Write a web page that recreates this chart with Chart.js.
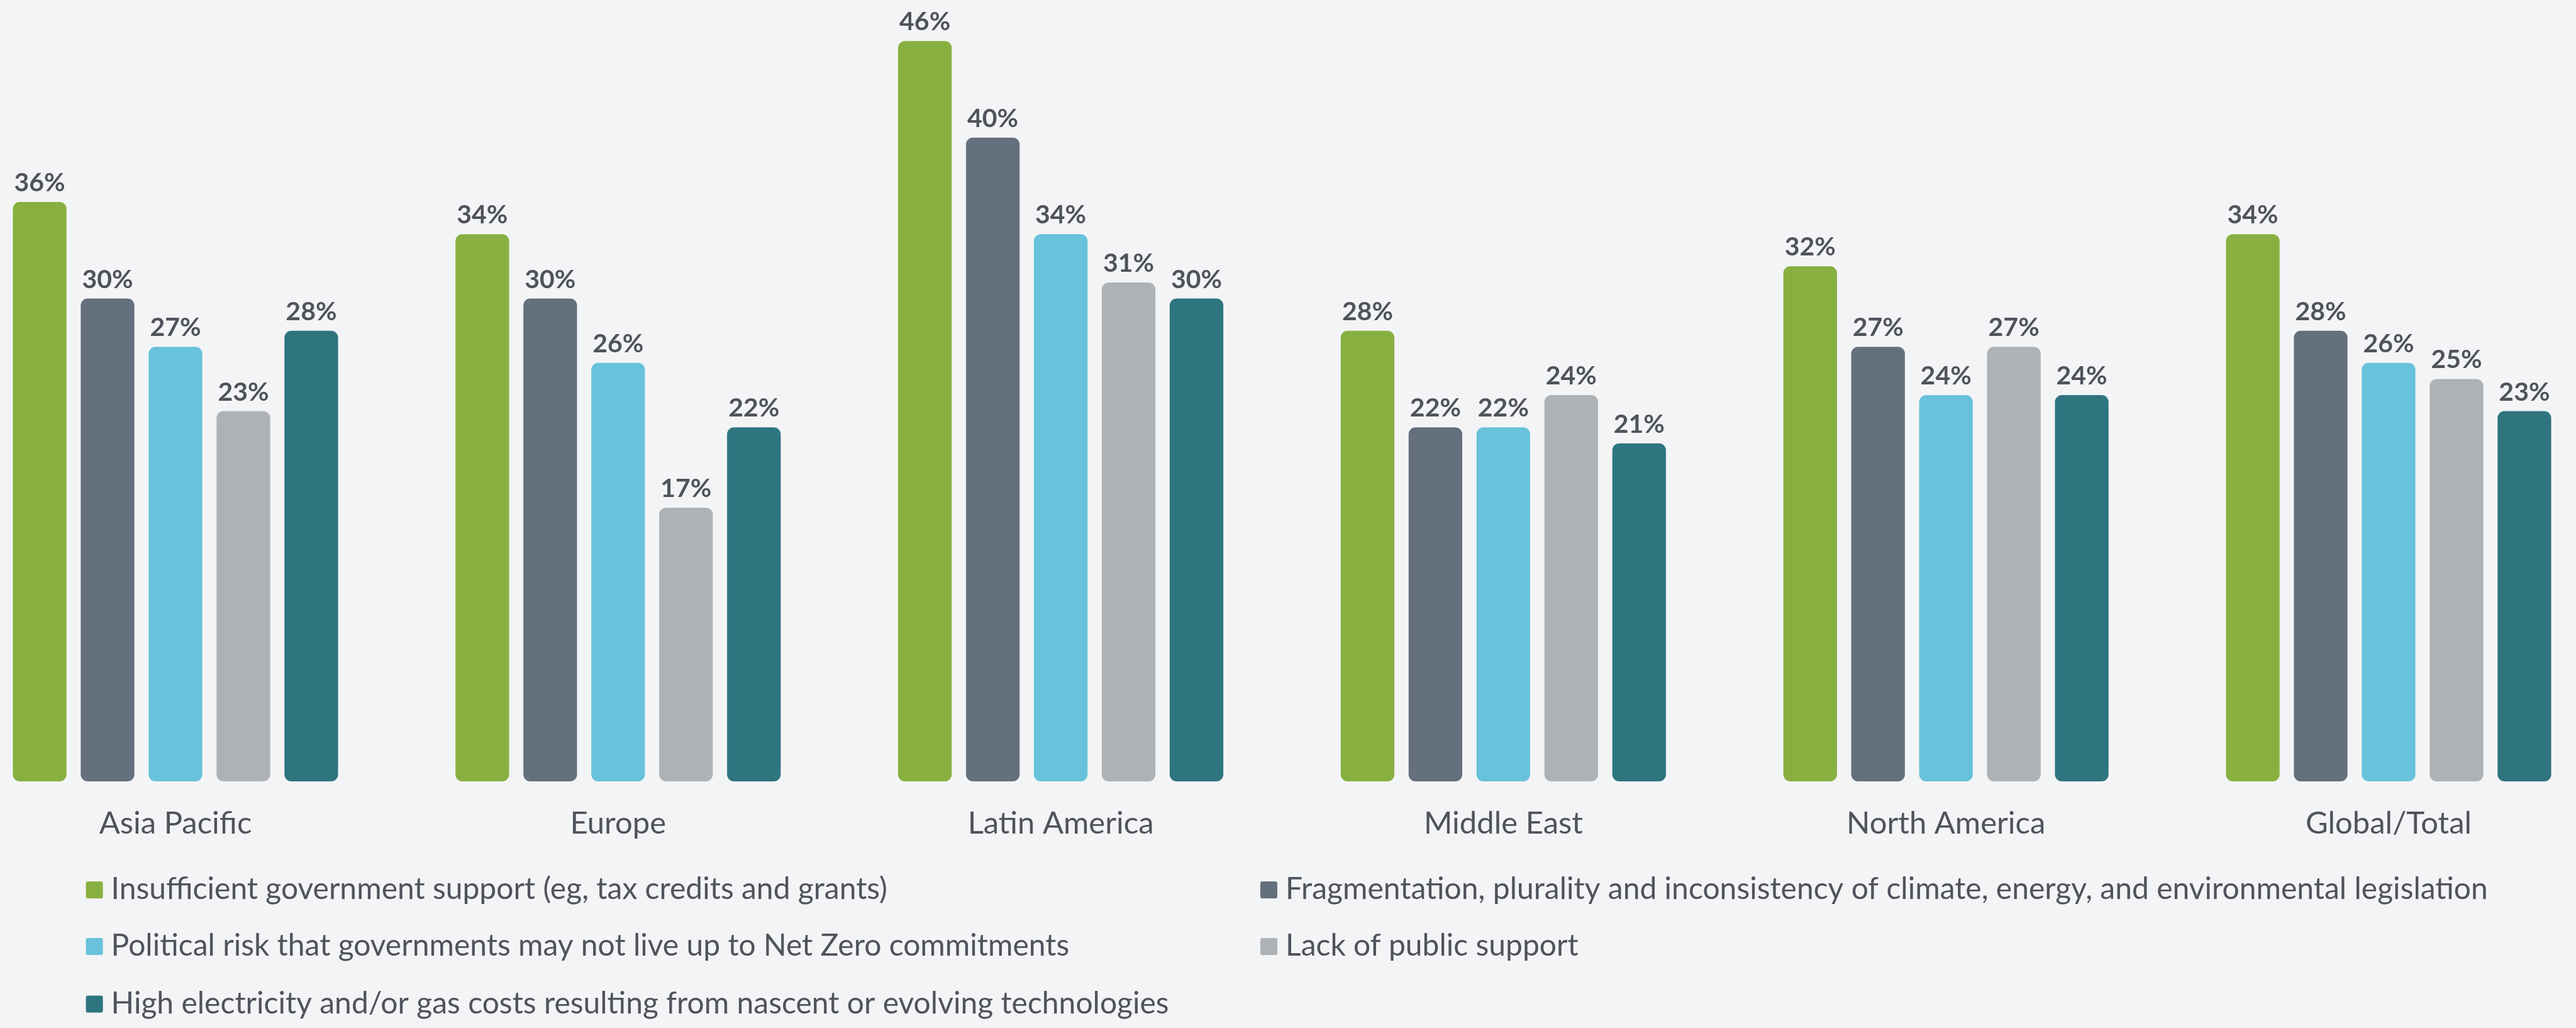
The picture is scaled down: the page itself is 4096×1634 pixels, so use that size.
<!DOCTYPE html>
<html>
<head>
<meta charset="utf-8">
<title>Barriers to Net Zero by region</title>
<script src="https://cdn.jsdelivr.net/npm/chart.js@4.4.1/dist/chart.umd.min.js"></script>
<style>
  html, body { margin: 0; padding: 0; background: #f3f4f6; }
  #wrap { position: relative; width: 4096px; height: 1634px; }
</style>
</head>
<body>
<div id="wrap"><canvas id="chart"></canvas></div>
<script>
// Regions along the x axis
const regions = ['Asia Pacific', 'Europe', 'Latin America', 'Middle East', 'North America', 'Global/Total'];

// Series names, in legend order
const seriesNames = [
  'Insufficient government support (eg, tax credits and grants)',
  'Fragmentation, plurality and inconsistency of climate, energy, and environmental legislation',
  'Political risk that governments may not live up to Net Zero commitments',
  'Lack of public support',
  'High electricity and/or gas costs resulting from nascent or evolving technologies'
];

// Share of respondents (%) per region
const insufficientSupport   = [36, 34, 46, 28, 32, 34];
const fragmentedLegislation = [30, 30, 40, 22, 27, 28];
const politicalRisk         = [27, 26, 34, 22, 24, 26];
const lackPublicSupport     = [23, 17, 31, 24, 27, 25];
const highEnergyCosts       = [28, 22, 30, 21, 24, 23];

const seriesValues = [insufficientSupport, fragmentedLegislation, politicalRisk, lackPublicSupport, highEnergyCosts];
const seriesColors = ['#88b040', '#64707d', '#68c2dc', '#afb2b5', '#2e7580'];

const TEXT = '#50535b';
const FONT = 'Lato';

// Percent labels above each bar
const valueLabels = {
  id: 'valueLabels',
  afterDatasetsDraw(chart) {
    const ctx = chart.ctx;
    ctx.save();
    ctx.font = `bold 41px ${FONT}`;
    ctx.fillStyle = TEXT;
    ctx.textAlign = 'center';
    ctx.textBaseline = 'alphabetic';
    chart.data.datasets.forEach((ds, i) => {
      chart.getDatasetMeta(i).data.forEach((bar, j) => {
        ctx.fillText(ds.data[j] + '%', bar.x, bar.y - 17);
      });
    });
    ctx.restore();
  }
};

// Two-column legend under the axis labels
const gridLegend = {
  id: 'gridLegend',
  afterDraw(chart) {
    const ctx = chart.ctx;
    const colX = [136.6, 2004];
    const rowBase = [1428, 1518, 1609.5];
    const box = 27;
    ctx.save();
    ctx.font = `48px ${FONT}`;
    ctx.textAlign = 'left';
    ctx.textBaseline = 'alphabetic';
    chart.data.datasets.forEach((ds, i) => {
      const x = colX[i % 2];
      const base = rowBase[Math.floor(i / 2)];
      ctx.fillStyle = ds.backgroundColor;
      ctx.beginPath();
      ctx.roundRect(x, base - box, box, box, 3);
      ctx.fill();
      ctx.fillStyle = TEXT;
      ctx.fillText(ds.label, x + box + 13, base + 1);
    });
    ctx.restore();
  }
};

function draw() {
  new Chart(document.getElementById('chart'), {
    type: 'bar',
    data: {
      labels: regions,
      datasets: seriesNames.map((name, i) => ({
        label: name,
        data: seriesValues[i],
        backgroundColor: seriesColors[i],
        borderRadius: 11,
        borderSkipped: false,
        categoryPercentage: 0.767,
        barPercentage: 0.79,
        clip: false
      }))
    },
    options: {
      responsive: true,
      maintainAspectRatio: false,
      animation: false,
      layout: { padding: { top: 14, left: 279, right: 298, bottom: 292 } },
      plugins: { legend: { display: false }, tooltip: { enabled: false } },
      scales: {
        x: {
          offset: false,
          grid: { display: false, drawTicks: false },
          border: { display: false },
          ticks: {
            autoSkip: false,
            maxRotation: 0,
            padding: 38,
            color: TEXT,
            font: { family: FONT, size: 49 }
          },
          afterFit(scale) { scale.height = 100; }
        },
        y: {
          display: false,
          min: 0,
          max: 48
        }
      }
    },
    plugins: [valueLabels, gridLegend]
  });
}

Promise.all([
  document.fonts.load(`48px ${FONT}`),
  document.fonts.load(`bold 41px ${FONT}`)
]).then(draw, draw);
</script>
</body>
</html>
